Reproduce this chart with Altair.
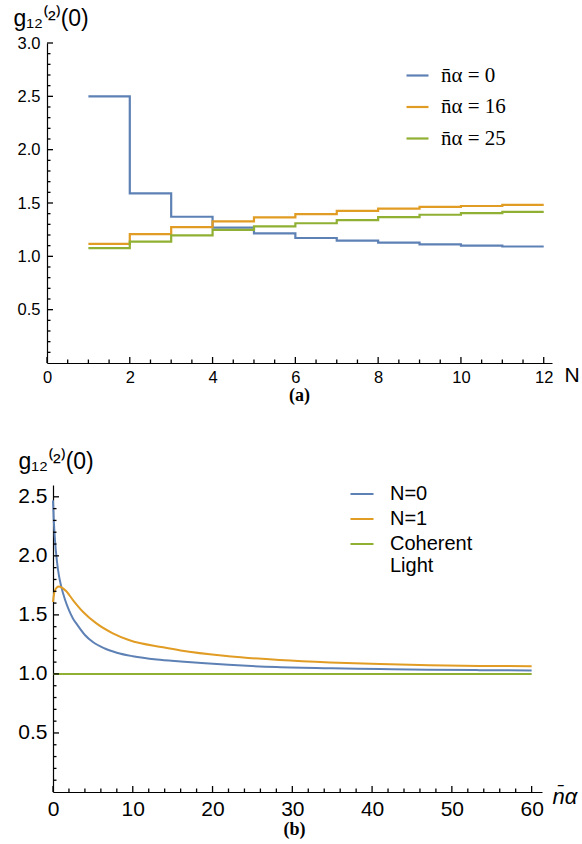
import altair as alt
import pandas as pd

# ---------------- panel (a) data: step curves g12(2)(0) vs N ----------------
N_steps = [1, 2, 3, 4, 5, 6, 7, 8, 9, 10, 11, 12]
g_nbar0 = [2.50, 1.59, 1.371, 1.27, 1.215, 1.172, 1.147, 1.129, 1.113, 1.100, 1.092, 1.092]
g_nbar16 = [1.117, 1.209, 1.273, 1.328, 1.365, 1.396, 1.426, 1.448, 1.463, 1.472, 1.482, 1.482]
g_nbar25 = [1.077, 1.138, 1.196, 1.248, 1.280, 1.310, 1.340, 1.368, 1.390, 1.405, 1.417, 1.417]
labels_a = ["n\u0304\u03b1 = 0", "n\u0304\u03b1 = 16", "n\u0304\u03b1 = 25"]

# ---------------- panel (b) data: g12(2)(0) vs mean photon number ----------------
nbar_N0 = [0, 0.1, 0.25, 0.5, 0.75, 1.0, 1.5, 2.0, 2.5, 3.0, 4.0, 5.0, 6.5, 8.0, 10, 13, 16, 22, 28, 35, 41, 47, 53.5, 60]
g_N0 = [2.47, 2.30, 2.13, 1.95, 1.83, 1.75, 1.63, 1.54, 1.47, 1.42, 1.33, 1.27, 1.215, 1.18, 1.15, 1.122, 1.105, 1.077, 1.058, 1.047, 1.041, 1.036, 1.032, 1.029]
nbar_N1 = [0, 0.2, 0.45, 0.75, 1.25, 1.67, 2.5, 3.75, 5.4, 7.5, 9.6, 13.8, 16, 22, 28.4, 34.7, 41, 47.2, 53.5, 60]
g_N1 = [1.61, 1.70, 1.73, 1.74, 1.725, 1.70, 1.626, 1.527, 1.43, 1.344, 1.285, 1.225, 1.198, 1.15, 1.118, 1.097, 1.083, 1.074, 1.068, 1.065]
nbar_coh = [0, 60]
g_coh = [1.0, 1.0]
labels_b = ["N=0", "N=1", "Coherent Light"]

colors = ["#5E81B5", "#E19C24", "#8FB032"]

xa_major = [0, 2, 4, 6, 8, 10, 12]
xa_minor = [0.5, 1, 1.5, 2.5, 3, 3.5, 4.5, 5, 5.5, 6.5, 7, 7.5, 8.5, 9, 9.5, 10.5, 11, 11.5]
ya_major = [0.5, 1.0, 1.5, 2.0, 2.5, 3.0]
ya_minor = [0.1, 0.2, 0.3, 0.4, 0.6, 0.7, 0.8, 0.9, 1.1, 1.2, 1.3, 1.4, 1.6, 1.7, 1.8, 1.9,
            2.1, 2.2, 2.3, 2.4, 2.6, 2.7, 2.8, 2.9]
xb_major = [0, 10, 20, 30, 40, 50, 60]
xb_minor = [2, 4, 6, 8, 12, 14, 16, 18, 22, 24, 26, 28, 32, 34, 36, 38, 42, 44, 46, 48, 52, 54, 56, 58]
yb_major = [0.5, 1.0, 1.5, 2.0, 2.5]
yb_minor = [0.1, 0.2, 0.3, 0.4, 0.6, 0.7, 0.8, 0.9, 1.1, 1.2, 1.3, 1.4, 1.6, 1.7, 1.8, 1.9,
            2.1, 2.2, 2.3, 2.4]

SANS = "Liberation Sans"
SERIF = "Liberation Serif"
YTITLE = "g\u2081\u2082\u207d\u00b2\u207e(0)"
TICK_COLOR = "black"

# ---------- build tables ----------
rows_a = []
for lab, vals in zip(labels_a, [g_nbar0, g_nbar16, g_nbar25]):
    for n, v in zip(N_steps, vals):
        rows_a.append({"N": n, "g": v, "series": lab})
df_a = pd.DataFrame(rows_a)

rows_b = []
for lab, xs, ys in zip(labels_b, [nbar_N0, nbar_N1, nbar_coh], [g_N0, g_N1, g_coh]):
    for x, y in zip(xs, ys):
        rows_b.append({"n": x, "g": y, "series": lab})
df_b = pd.DataFrame(rows_b)


def inward_ticks(xs, ys, H, x0, xvals, yvals, size):
    """Mathematica-style ticks pointing into the plot, placed through the scales."""
    tx = alt.Chart(pd.DataFrame({"v": xvals})).mark_rule(color=TICK_COLOR, strokeWidth=1.3).encode(
        x=alt.X("v:Q", scale=xs),
        y=alt.value(H), y2=alt.value(H - size))
    ty = alt.Chart(pd.DataFrame({"w": yvals})).mark_rule(color=TICK_COLOR, strokeWidth=1.3).encode(
        y=alt.Y("w:Q", scale=ys),
        x=alt.value(x0), x2=alt.value(x0 + size))
    return [tx, ty]


# ---------------- panel (a) ----------------
Wa, Ha = 505, 320
xa = alt.Scale(domain=[0, 12.2], nice=False, zero=False)
ya = alt.Scale(domain=[0, 3.0], nice=False)

lines_a = alt.Chart(df_a).mark_line(interpolate="step-after", strokeWidth=2.2).encode(
    x=alt.X("N:Q", scale=xa, axis=alt.Axis(
        orient="bottom", values=xa_major, format="d", ticks=False, tickSize=0, labelPadding=6,
        labelFont=SANS, labelFontSize=16.5, labelColor="black", labelFlush=False,
        domainColor="black", domainWidth=1.2, grid=False,
        title="N", titleFont=SANS, titleFontSize=21, titleFontWeight="normal", titleColor="black",
        titleX=Wa + 12, titleY=12, titleAlign="left", titleBaseline="middle")),
    y=alt.Y("g:Q", scale=ya, axis=alt.Axis(
        orient="left", values=ya_major, format=".1f", ticks=False, tickSize=0, labelPadding=7,
        labelFont=SANS, labelFontSize=16.5, labelColor="black",
        domainColor="black", domainWidth=1.2, grid=False,
        title=YTITLE, titleFont=SANS, titleFontSize=23,
        titleFontWeight="normal", titleColor="black", titleAngle=0,
        titleX=-34, titleY=-18, titleAlign="left", titleBaseline="alphabetic")),
    color=alt.Color("series:N", scale=alt.Scale(domain=labels_a, range=colors),
                    sort=labels_a,
                    legend=alt.Legend(orient="none", legendX=358, legendY=20, title=None,
                                      symbolType="stroke", symbolSize=484, symbolStrokeWidth=2.2,
                                      labelFont=SERIF, labelFontSize=21, labelColor="black",
                                      labelOffset=11, rowPadding=8.5, padding=0)),
)

panel_a = alt.layer(
    lines_a,
    *inward_ticks(xa, ya, Ha, 0, xa_major, ya_major, 6),
    *inward_ticks(xa, ya, Ha, 0, xa_minor, ya_minor, 3.5),
).properties(
    width=Wa, height=Ha,
    title=alt.TitleParams("(a)", orient="bottom", font=SERIF, fontSize=18, fontWeight="bold",
                          color="black", anchor="middle", frame="group", offset=1),
)

# ---------------- panel (b) ----------------
SH = 6  # panel (b) plot starts a few pixels right of panel (a)
Wb, Hb = 489, 307
xb = alt.Scale(domain=[0, 61.3], range=[SH, Wb + SH], nice=False, zero=False)
yb = alt.Scale(domain=[0, 2.6], nice=False)

lines_b = alt.Chart(df_b).mark_line(interpolate="monotone", strokeWidth=2).encode(
    x=alt.X("n:Q", scale=xb, axis=alt.Axis(
        orient="bottom", values=xb_major, format="d", ticks=False, tickSize=0, labelPadding=6,
        labelFont=SANS, labelFontSize=21, labelColor="black", labelFlush=False,
        domainColor="black", domainWidth=1.2, grid=False,
        title="n\u0304\u03b1", titleFont=SANS, titleFontSize=22, titleFontStyle="italic",
        titleFontWeight="normal", titleColor="black",
        titleX=Wb + SH + 10, titleY=4, titleAlign="left", titleBaseline="middle")),
    y=alt.Y("g:Q", scale=yb, axis=alt.Axis(
        orient="left", offset=-SH, values=yb_major, format=".1f", ticks=False, tickSize=0,
        labelPadding=6, labelFont=SANS, labelFontSize=21, labelColor="black",
        domainColor="black", domainWidth=1.2, grid=False,
        title=YTITLE, titleFont=SANS, titleFontSize=23,
        titleFontWeight="normal", titleColor="black", titleAngle=0,
        titleX=-35, titleY=-17, titleAlign="left", titleBaseline="alphabetic")),
    color=alt.Color("series:N", scale=alt.Scale(domain=labels_b, range=colors),
                    sort=labels_b,
                    legend=alt.Legend(orient="none", legendX=302, legendY=-4, title=None,
                                      symbolType="stroke", symbolSize=530, symbolStrokeWidth=2,
                                      labelFont=SANS, labelFontSize=20, labelColor="black",
                                      labelOffset=15, rowPadding=2, padding=0,
                                      labelExpr="datum.label == 'Coherent Light' ? ['Coherent', 'Light'] : datum.label")),
)

panel_b = alt.layer(
    lines_b,
    *inward_ticks(xb, yb, Hb, SH, xb_major, yb_major, 6),
    *inward_ticks(xb, yb, Hb, SH, xb_minor, yb_minor, 3.5),
).properties(
    width=Wb + SH, height=Hb,
    title=alt.TitleParams("(b)", orient="bottom", font=SERIF, fontSize=18, fontWeight="bold",
                          color="black", anchor="middle", frame="group", offset=2),
)

chart = alt.vconcat(panel_a, panel_b, spacing=45).resolve_scale(
    color="independent").configure_view(stroke=None).properties(
    padding={"left": 13, "top": 7, "right": 0, "bottom": 0},
    background="white",
)

chart.save("out.html", embed_options={"renderer": "svg", "actions": False})
